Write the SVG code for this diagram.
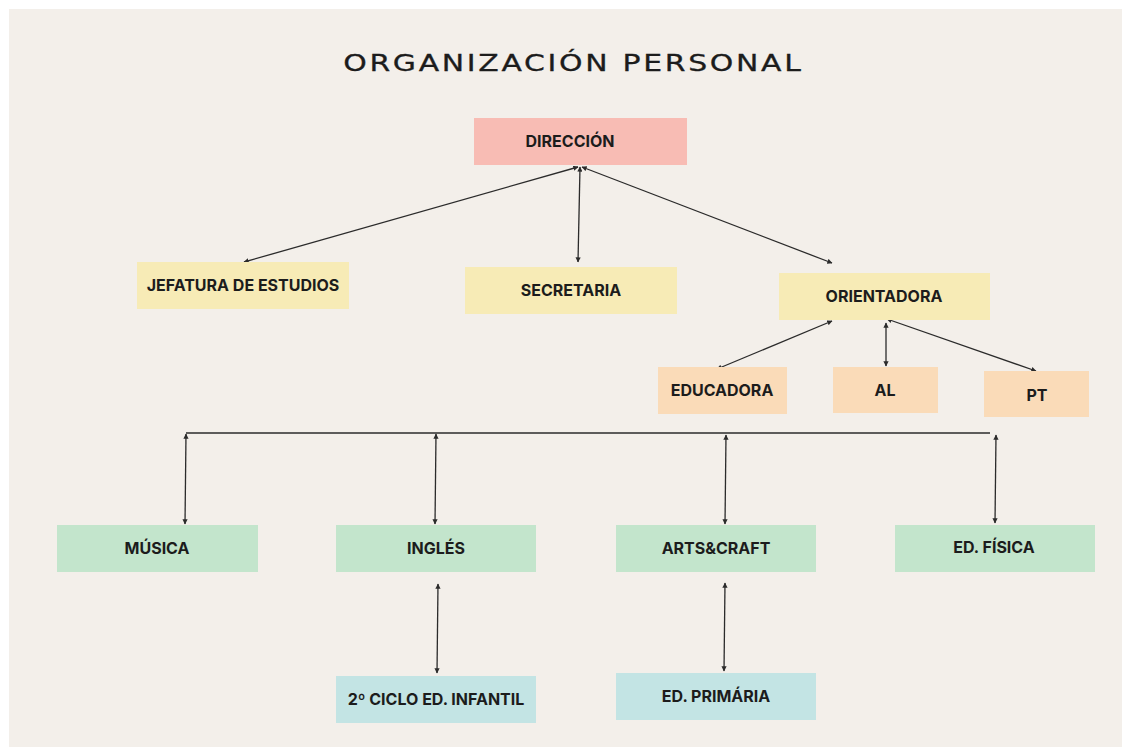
<svg xmlns="http://www.w3.org/2000/svg" width="1122" height="747" viewBox="0 0 1122 747">
<style>
.lbl{font-family:Inter,"Liberation Sans",sans-serif;font-weight:700;font-size:16px;fill:#1c1c1c;text-anchor:middle;dominant-baseline:central}
.ttl{font-family:"DejaVu Sans","Liberation Sans",sans-serif;font-size:23px;fill:#1c1c1c;stroke:#1c1c1c;stroke-width:0.3;text-anchor:middle}
.pink{fill:#F8BCB4}.yel{fill:#F7EBB6}.pea{fill:#FADBB8}.grn{fill:#C3E5CC}.blu{fill:#C3E4E4}
.con line{stroke:#2b2b2b;stroke-width:1.3;fill:none}
.dbl{marker-start:url(#ah);marker-end:url(#ah)}
</style>
<defs>
<marker id="ah" viewBox="0 0 10 10" refX="9" refY="5" markerWidth="4" markerHeight="4" orient="auto-start-reverse" markerUnits="strokeWidth">
<path d="M0,0 L10,5 L0,10 z" fill="#2b2b2b"/>
</marker>
</defs>
<rect x="0" y="0" width="1122" height="747" fill="#ffffff"/>
<rect x="9" y="9" width="1113" height="738" fill="#F3EFEA"/>
<text class="ttl" transform="translate(572,71) scale(1.3,1)" x="0" y="0" textLength="352" lengthAdjust="spacing">ORGANIZACIÓN PERSONAL</text>

<g class="con">
<line class="dbl" x1="578" y1="167" x2="244" y2="262"/>
<line class="dbl" x1="580" y1="167" x2="578" y2="262"/>
<line class="dbl" x1="582" y1="167" x2="832" y2="263"/>
<line class="dbl" x1="832" y1="321" x2="717" y2="369"/>
<line class="dbl" x1="886" y1="323" x2="886" y2="366"/>
<line class="dbl" x1="887" y1="319" x2="1036" y2="371"/>
<line x1="186" y1="433" x2="990" y2="433"/>
<line class="dbl" x1="186" y1="434" x2="185" y2="524"/>
<line class="dbl" x1="436" y1="434" x2="435" y2="524"/>
<line class="dbl" x1="726" y1="435" x2="725" y2="524"/>
<line class="dbl" x1="996" y1="435" x2="995" y2="523"/>
<line class="dbl" x1="438" y1="584" x2="437" y2="673"/>
<line class="dbl" x1="725" y1="583" x2="724" y2="671"/>
</g>

<g id="direccion"><rect class="pink" x="474" y="118" width="213" height="47"/><text class="lbl" x="570" y="141">DIRECCIÓN</text></g>
<g id="jefatura"><rect class="yel" x="137" y="262" width="212" height="47"/><text class="lbl" x="243" y="285">JEFATURA DE ESTUDIOS</text></g>
<g id="secretaria"><rect class="yel" x="465" y="267" width="212" height="47"/><text class="lbl" x="571" y="290">SECRETARIA</text></g>
<g id="orientadora"><rect class="yel" x="779" y="273" width="211" height="47"/><text class="lbl" x="884" y="296">ORIENTADORA</text></g>
<g id="educadora"><rect class="pea" x="658" y="367" width="129" height="47"/><text class="lbl" x="722" y="390">EDUCADORA</text></g>
<g id="al"><rect class="pea" x="833" y="367" width="105" height="46"/><text class="lbl" x="885" y="390">AL</text></g>
<g id="pt"><rect class="pea" x="984" y="371" width="105" height="46"/><text class="lbl" x="1037" y="395">PT</text></g>
<g id="musica"><rect class="grn" x="57" y="525" width="201" height="47"/><text class="lbl" x="157" y="548">MÚSICA</text></g>
<g id="ingles"><rect class="grn" x="336" y="525" width="200" height="47"/><text class="lbl" x="436" y="548">INGLÉS</text></g>
<g id="arts"><rect class="grn" x="616" y="525" width="200" height="47"/><text class="lbl" x="716" y="548">ARTS&amp;CRAFT</text></g>
<g id="edfisica"><rect class="grn" x="895" y="525" width="200" height="47"/><text class="lbl" x="994" y="547">ED. FÍSICA</text></g>
<g id="ciclo"><rect class="blu" x="336" y="676" width="200" height="47"/><text class="lbl" x="436" y="699">2º CICLO ED. INFANTIL</text></g>
<g id="primaria"><rect class="blu" x="616" y="673" width="200" height="47"/><text class="lbl" x="716" y="696">ED. PRIMÁRIA</text></g>
</svg>
